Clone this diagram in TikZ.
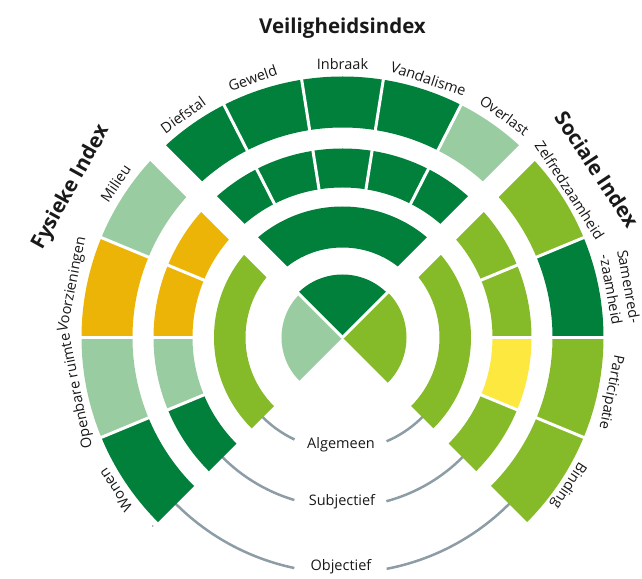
\documentclass[tikz,border=0pt]{standalone}
\usepackage{fontspec}
\setmainfont{Open Sans}
\definecolor{dkgreen}{RGB}{0,128,58}
\definecolor{lmgreen}{RGB}{133,186,40}
\definecolor{ltgreen}{RGB}{154,204,161}
\definecolor{orng}{RGB}{236,180,6}
\definecolor{yllw}{RGB}{252,232,62}
\definecolor{arcgrey}{RGB}{140,157,166}
\definecolor{txt}{RGB}{25,25,25}
\newcommand{\rseg}[5]{\fill[#5] (#3:#2pt) arc[start angle=#3, end angle=#4, radius=#2pt] -- (#4:#1pt) arc[start angle=#4, end angle=#3, radius=#1pt] -- cycle;}
\begin{document}
\begin{tikzpicture}[x=1pt,y=1pt,
  lbl/.style={font=\fontsize{14.5}{18}\selectfont, text=txt, inner sep=0pt},
  ttl/.style={font=\bfseries\fontsize{20.5}{24}\selectfont, text=txt, inner sep=0pt},
  gapstrip/.style={white, line width=22pt},
  divider/.style={white, line width=3pt},
  greyarc/.style={arcgrey, line width=2.5pt}]
\useasboundingbox (-342.5,-240.5) rectangle (299.5,337.5);
% grey arcs
\draw[greyarc] (222:112.75pt) arc[start angle=222, end angle=244.8, radius=112.75pt];
\draw[greyarc] (293:112.75pt) arc[start angle=293, end angle=318, radius=112.75pt];
\draw[greyarc] (222:169.5pt) arc[start angle=222, end angle=253.5, radius=169.5pt];
\draw[greyarc] (285:169.5pt) arc[start angle=285, end angle=318, radius=169.5pt];
\draw[greyarc] (222:235.5pt) arc[start angle=222, end angle=258.2, radius=235.5pt];
\draw[greyarc] (280.8:235.5pt) arc[start angle=280.8, end angle=318, radius=235.5pt];
% outer ring, top
\rseg{210}{261}{117}{135}{dkgreen}
\rseg{210}{261}{99}{117}{dkgreen}
\rseg{210}{261}{81}{99}{dkgreen}
\rseg{210}{261}{63}{81}{dkgreen}
\rseg{210}{261}{45}{63}{ltgreen}
% outer ring, left
\rseg{210}{261}{135}{157.5}{ltgreen}
\rseg{210}{261}{157.5}{180}{orng}
\rseg{210}{261}{180}{202.5}{ltgreen}
\rseg{210}{261}{202.5}{225}{dkgreen}
% outer ring, right
\rseg{210}{261}{22.5}{45}{lmgreen}
\rseg{210}{261}{0}{22.5}{dkgreen}
\rseg{210}{261}{-22.5}{0}{lmgreen}
\rseg{210}{261}{-45}{-22.5}{lmgreen}
% second ring
\rseg{150}{189}{45}{135}{dkgreen}
\rseg{150}{189}{135}{157.5}{orng}
\rseg{150}{189}{157.5}{180}{orng}
\rseg{150}{189}{180}{202.5}{ltgreen}
\rseg{150}{189}{202.5}{225}{dkgreen}
\rseg{150}{189}{22.5}{45}{lmgreen}
\rseg{150}{189}{0}{22.5}{lmgreen}
\rseg{150}{189}{-22.5}{0}{yllw}
\rseg{150}{189}{-45}{-22.5}{lmgreen}
% third ring
\rseg{90}{131}{45}{135}{dkgreen}
\rseg{97}{128.5}{135}{225}{lmgreen}
\rseg{97}{128.5}{-45}{45}{lmgreen}
% pie
\fill[dkgreen] (0,0) -- (45:63pt) arc[start angle=45, end angle=135, radius=63pt] -- cycle;
\fill[ltgreen] (0,0) -- (135:61pt) arc[start angle=135, end angle=225, radius=61pt] -- cycle;
\fill[lmgreen] (0,0) -- (-45:64pt) arc[start angle=-45, end angle=45, radius=64pt] -- cycle;
% gaps and dividers
\draw[gapstrip] (45:72pt) -- (45:266pt);
\draw[gapstrip] (135:72pt) -- (135:266pt);
\foreach \a in {63,81,99,117,157.5,180,202.5,22.5,0,-22.5}
  \draw[divider] (\a:145pt) -- (\a:264pt);
\draw[divider] (0,0) -- (45:67pt);
\draw[divider] (0,0) -- (135:67pt);
\fill[arcgrey] (224.8:267.5pt) circle (0.9pt);
% titles
\node[ttl] (tveilig) at (90:309.5pt) {Veiligheidsindex};
\node[ttl, rotate=61] (tfysiek) at (151:310pt) {Fysieke Index};
\node[ttl, rotate=-56.5] (tsociaal) at (33.5:305pt) {Sociale Index};
% outer labels
\node[lbl, rotate=35.6] (diefstal) at (125.6:274pt) {Diefstal};
\node[lbl, rotate=19.1] (geweld) at (109.1:274.5pt) {Geweld};
\node[lbl, rotate=0] (inbraak) at (90:273pt) {Inbraak};
\node[lbl, rotate=-18.4] (vandalisme) at (71.6:272.5pt) {Vandalisme};
\node[lbl, rotate=-36.1] (overlast) at (53.9:275pt) {Overlast};
\node[lbl, rotate=55.8] (milieu) at (145.8:274.5pt) {Milieu};
\node[lbl, rotate=78.9] (voorz) at (168.9:275pt) {Voorzieningen};
\node[lbl, rotate=101.4] (openbaar) at (191.4:271pt) {Openbare ruimte};
\node[lbl, rotate=123.9] (wonen) at (213.9:273.5pt) {Wonen};
\node[lbl, rotate=-57] (zelfred) at (33:271pt) {Zelfredzaamheid};
\node[lbl, rotate=-79.9, align=center] (samenred) at (10.1:282pt) {Samenred-\\-zaamheid};
\node[lbl, rotate=-101.5] (particip) at (-11.5:273.5pt) {Participatie};
\node[lbl, rotate=-123.2] (binding) at (-33.2:270pt) {Binding};
% bottom labels
\node[lbl] (algemeen) at (-1.5,-107.5) {Algemeen};
\node[lbl] (subjectief) at (-0.5,-164.5) {Subjectief};
\node[lbl] (objectief) at (-1.5,-229.5) {Objectief};
\end{tikzpicture}
\end{document}
